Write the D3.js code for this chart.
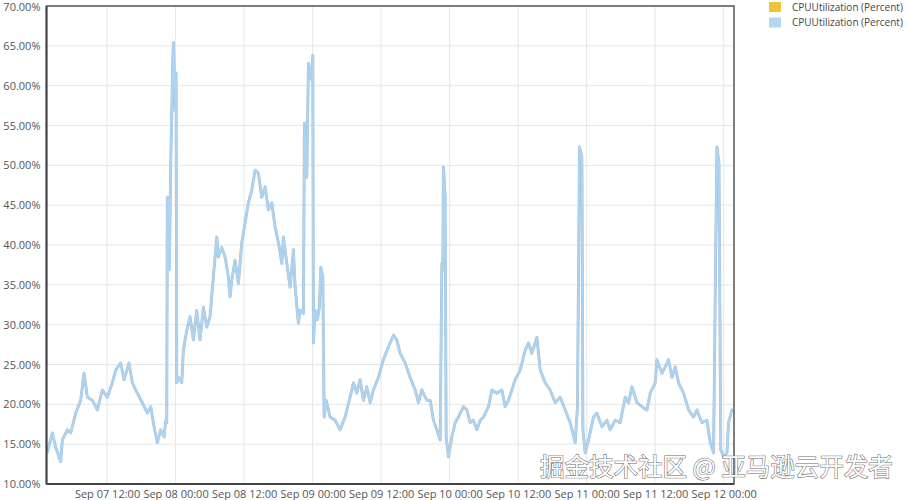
<!DOCTYPE html>
<html><head><meta charset="utf-8">
<script src="https://cdn.jsdelivr.net/npm/d3@7"></script>
<style>body{margin:0;background:#fff;} svg{display:block;}</style>
</head><body>
<svg id="c" width="908" height="500"></svg>
<script>
// hours after Sep 07 00:00 (UTC)
const hours = [1.5,2.42,3.01,3.89,4.17,5.05,5.64,6.52,7.39,7.97,8.55,9.43,10.3,11.18,12.05,12.93,13.52,14.4,14.98,15.85,16.43,17.31,18.18,19.06,19.66,20.23,20.81,21.41,21.99,22.28,22.46,22.56,22.86,22.91,23.16,23.51,23.62,23.79,23.91,24.09,24.21,24.49,25.09,25.37,25.96,26.54,27.12,27.71,28.29,28.87,29.47,30.04,30.62,31.22,31.5,32.09,32.67,33.25,33.55,33.85,34.42,35.0,35.6,36.18,36.75,37.35,37.93,38.51,39.1,39.68,40.26,40.85,41.43,42.01,42.61,42.89,43.48,44.06,44.64,44.94,45.51,45.81,46.39,46.57,46.99,47.27,47.86,48.04,48.14,48.44,48.84,49.19,49.44,49.79,50.02,50.37,51.07,51.94,52.82,53.69,54.57,55.15,55.74,56.32,56.9,57.5,58.08,58.65,59.53,60.4,61.28,62.16,62.75,63.33,64.21,65.08,65.96,66.54,67.13,68.01,68.59,69.16,69.76,70.34,70.64,70.81,70.91,71.21,71.39,71.79,72.39,72.97,73.54,74.42,75.02,75.6,76.17,76.77,77.35,77.92,78.8,79.4,80.27,81.15,81.73,82.3,82.9,83.48,84.35,85.23,85.81,86.4,87.28,87.86,88.73,89.61,90.48,91.36,92.24,93.11,93.99,94.39,94.74,95.16,95.34,95.74,96.32,97.19,97.79,98.67,99.54,100.12,101.0,101.87,102.75,103.33,103.92,104.8,105.67,106.55,107.13,108.0,108.3,109.18,109.76,110.33,110.93,111.51,112.09,112.96,113.84,114.71,115.31,116.18,117.06,117.64,118.22,118.51,118.81,119.17,119.48,119.97,120.56,120.85,121.44,121.67];
const cpu = [13.9,16.4,14.6,12.8,15.5,16.8,16.4,18.9,20.5,23.9,20.9,20.5,19.3,21.8,20.9,22.7,24.3,25.2,23.1,25.2,22.7,21.4,20.2,18.9,19.7,17.2,15.2,16.8,15.9,18.0,17.7,46.0,45.3,36.9,50.3,62.8,65.4,61.1,56.9,61.6,22.7,23.4,22.7,26.8,29.3,31.0,28.1,31.8,28.1,32.2,29.7,31.0,36.0,41.0,38.5,39.7,38.5,36.0,33.5,35.6,38.1,35.2,40.3,42.8,45.3,46.9,49.4,49.0,46.0,47.3,44.4,45.3,42.3,40.3,37.7,41.0,37.7,34.7,39.4,34.7,30.2,31.8,31.4,55.3,48.5,62.8,60.7,63.8,27.7,31.8,30.6,32.2,37.2,36.0,18.4,20.5,18.4,18.0,16.8,18.4,20.9,22.7,21.4,23.1,20.5,22.2,20.2,21.8,23.4,25.6,27.2,28.7,28.1,26.4,25.2,23.4,21.8,20.2,21.8,20.5,20.5,18.0,16.8,15.5,37.7,36.9,49.8,46.0,15.9,13.4,15.9,17.7,18.4,19.7,19.3,17.7,18.0,16.8,18.0,18.4,19.7,21.8,21.4,21.8,19.7,20.5,21.8,23.1,24.3,26.8,27.7,26.4,28.4,24.3,22.7,21.8,20.2,20.9,19.3,17.7,15.2,19.7,52.3,51.0,16.8,13.9,15.5,18.4,18.9,17.2,18.0,16.8,18.0,17.7,20.9,20.2,22.2,20.2,19.7,19.3,21.4,22.7,25.6,23.9,24.7,25.6,23.4,24.7,22.7,21.4,19.3,18.4,19.3,17.7,18.0,15.2,13.9,33.5,52.3,50.3,14.3,13.4,13.9,17.7,19.3,19.0];
const yTicks = [10,15,20,25,30,35,40,45,50,55,60,65,70];
const xTickHours = [12,24,36,48,60,72,84,96,108,120];
const legendLabels = ["CPUUtilization (Percent)","CPUUtilization (Percent)"];
const legendColors = ["#f0c33c","#b5d6f3"];
const watermark = "掘金技术社区 @ 亚马逊云开发者";

const base = Date.UTC(2023,8,7,0,0);
const toDate = h => new Date(base + h*3600000);
const data = hours.map((h,i)=>({t:toDate(h), v:cpu[i]}));

const svg = d3.select("#c");
const L=46.5, R=734, T=6, B=484;
const x = d3.scaleUtc().domain([toDate(1.4), toDate(121.8)]).range([L,R]);
const y = d3.scaleLinear().domain([10,70]).range([B,T]);
const font = "'Open Sans', 'Noto Sans', sans-serif";

// grid
const g = svg.append("g");
g.selectAll(".hg").data(yTicks).join("line")
  .attr("x1",L).attr("x2",R).attr("y1",d=>y(d)).attr("y2",d=>y(d))
  .attr("stroke","#e6e6e6").attr("stroke-width",1);
g.selectAll(".vg").data(xTickHours.map(toDate)).join("line")
  .attr("x1",d=>x(d)).attr("x2",d=>x(d)).attr("y1",T).attr("y2",B)
  .attr("stroke","#e6e6e6").attr("stroke-width",1);

// axes
const yAxis = d3.axisLeft(y).tickValues(yTicks).tickSize(0).tickPadding(5)
  .tickFormat(d=>d3.format(".2f")(d)+"%");
const ya = svg.append("g").attr("transform",`translate(${L-1},0)`).call(yAxis);
ya.select(".domain").remove();
ya.selectAll("text").attr("font-family",font).attr("font-size",11).attr("fill","#555");
ya.selectAll(".tick").filter(d=>d===70).select("text").attr("dy","0.45em");

const xAxis = d3.axisBottom(x).tickValues(xTickHours.map(toDate)).tickSize(0).tickPadding(6)
  .tickFormat(d3.utcFormat("%b %d %H:%M"));
const xa = svg.append("g").attr("transform",`translate(0,${B})`).call(xAxis);
xa.select(".domain").remove();
xa.selectAll("text").attr("font-family",font).attr("font-size",11).attr("fill","#555");

// line
const line = d3.line().x(d=>x(d.t)).y(d=>y(d.v)).curve(d3.curveLinear);
svg.append("path").datum(data).attr("d",line).attr("fill","none")
  .attr("stroke","#a3bdd3").attr("stroke-width",2.9).attr("stroke-linejoin","round");
svg.append("path").datum(data).attr("d",line).attr("fill","none")
  .attr("stroke","#aed3f1").attr("stroke-width",2.2).attr("stroke-linejoin","round");

// frame
svg.append("rect").attr("x",L).attr("y",T).attr("width",R-L).attr("height",B-T)
  .attr("fill","none").attr("stroke","#555").attr("stroke-width",1.5);
svg.append("line").attr("x1",L).attr("x2",L).attr("y1",T).attr("y2",B).attr("stroke","#444").attr("stroke-width",2);
svg.append("line").attr("x1",L).attr("x2",R).attr("y1",B).attr("y2",B).attr("stroke","#444").attr("stroke-width",2);

// legend
const lg = svg.append("g");
legendLabels.forEach((lab,i)=>{
  lg.append("rect").attr("x",769).attr("y",2+i*15.5).attr("width",12).attr("height",10)
    .attr("fill",legendColors[i]);
  lg.append("text").attr("x",792).attr("y",7+i*15.5).attr("dy","0.35em")
    .attr("font-family",font).attr("font-size",10).attr("fill","#444").text(lab);
});

// watermark
svg.append("text").attr("x",540).attr("y",476)
  .attr("font-family","'Noto Sans CJK SC', sans-serif").attr("font-size",24.5)
  .attr("fill","#fff").attr("stroke","#6a6a6a").attr("stroke-width",1.1)
  .attr("paint-order","stroke").text(watermark);
</script>
</body></html>
